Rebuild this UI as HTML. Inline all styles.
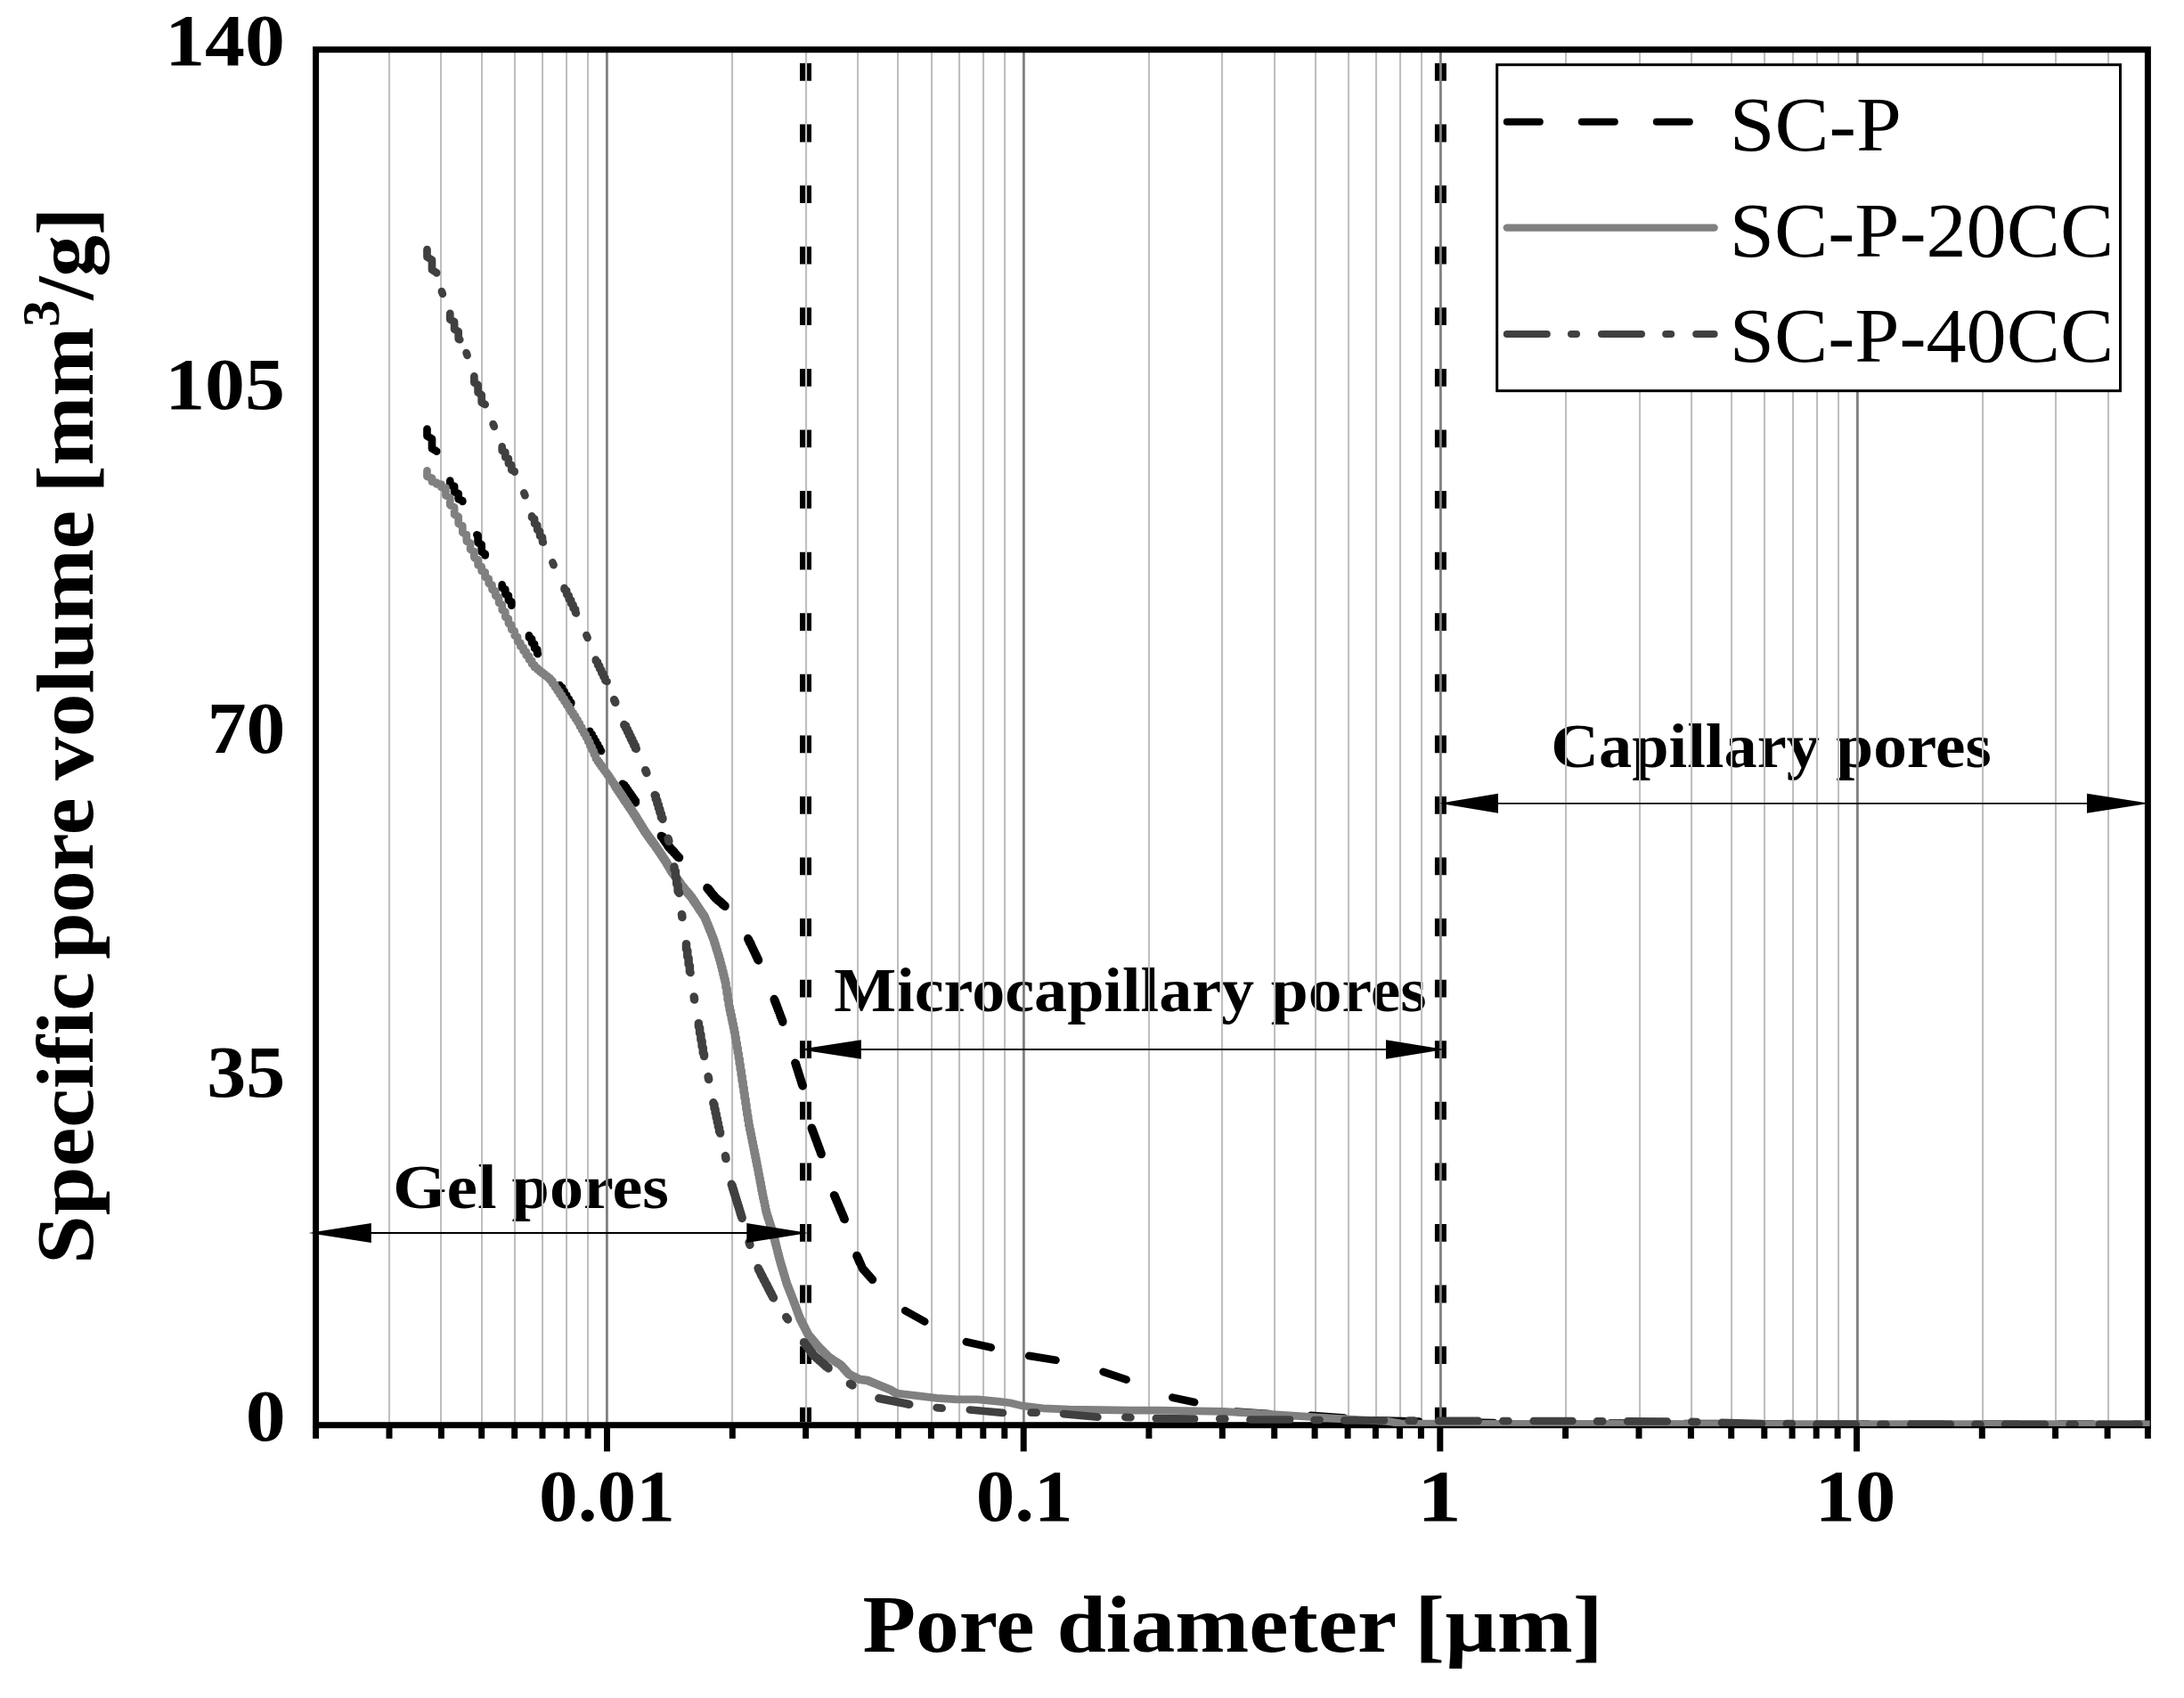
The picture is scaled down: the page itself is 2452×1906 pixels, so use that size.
<!DOCTYPE html>
<html lang="en"><head><meta charset="utf-8"><title>Pore size distribution</title>
<style>html,body{margin:0;padding:0;background:#fff}body{width:2452px;height:1906px;overflow:hidden}svg{display:block}text{font-family:'Liberation Serif','DejaVu Serif',serif;fill:#000}.b{font-weight:bold}</style></head><body>
<svg width="2452" height="1906" viewBox="0 0 2452 1906">
<rect width="2452" height="1906" fill="#fff"/>
<g id="shapes">
<line x1="904.5" y1="71" x2="904.5" y2="1596" stroke="#000" stroke-width="13" stroke-dasharray="19.8 48.78"/>
<line x1="1617.4" y1="71" x2="1617.4" y2="1596" stroke="#000" stroke-width="13" stroke-dasharray="19.8 48.78"/>
<text class="b" transform="translate(441.04,1356.20) scale(1.1194,1.0)" font-size="69.5">Gel</text>
<text class="b" transform="translate(574.56,1356.20) scale(1.0966,1.0)" font-size="69.5">pores</text>
<text class="b" transform="translate(936.21,1135.10) scale(1.0664,1.0)" font-size="69.5">Microcapillary</text>
<text class="b" transform="translate(1426.79,1135.10) scale(1.0876,1.0)" font-size="69.5">pores</text>
<text class="b" transform="translate(1741.24,860.80) scale(1.0703,1.0)" font-size="69.5">Capillary</text>
<text class="b" transform="translate(2061.18,860.80) scale(1.0858,1.0)" font-size="69.5">pores</text>
</g>
<g id="grid">
<rect x="436" y="59" width="2.1" height="1537.5" fill="#bfbfbf"/>
<rect x="494" y="59" width="2.1" height="1537.5" fill="#bfbfbf"/>
<rect x="540" y="59" width="2.1" height="1537.5" fill="#bfbfbf"/>
<rect x="577" y="59" width="2.1" height="1537.5" fill="#bfbfbf"/>
<rect x="608" y="59" width="2.1" height="1537.5" fill="#bfbfbf"/>
<rect x="635" y="59" width="2.1" height="1537.5" fill="#bfbfbf"/>
<rect x="659" y="59" width="2.1" height="1537.5" fill="#bfbfbf"/>
<rect x="680" y="59" width="2.8" height="1537.5" fill="#808080"/>
<rect x="821" y="59" width="2.1" height="1537.5" fill="#bfbfbf"/>
<rect x="904" y="59" width="2.1" height="1537.5" fill="#bfbfbf"/>
<rect x="962" y="59" width="2.1" height="1537.5" fill="#bfbfbf"/>
<rect x="1007" y="59" width="2.1" height="1537.5" fill="#bfbfbf"/>
<rect x="1045" y="59" width="2.1" height="1537.5" fill="#bfbfbf"/>
<rect x="1076" y="59" width="2.1" height="1537.5" fill="#bfbfbf"/>
<rect x="1103" y="59" width="2.1" height="1537.5" fill="#bfbfbf"/>
<rect x="1127" y="59" width="2.1" height="1537.5" fill="#bfbfbf"/>
<rect x="1148" y="59" width="2.8" height="1537.5" fill="#808080"/>
<rect x="1289" y="59" width="2.1" height="1537.5" fill="#bfbfbf"/>
<rect x="1371" y="59" width="2.1" height="1537.5" fill="#bfbfbf"/>
<rect x="1430" y="59" width="2.1" height="1537.5" fill="#bfbfbf"/>
<rect x="1476" y="59" width="2.1" height="1537.5" fill="#bfbfbf"/>
<rect x="1513" y="59" width="2.1" height="1537.5" fill="#bfbfbf"/>
<rect x="1544" y="59" width="2.1" height="1537.5" fill="#bfbfbf"/>
<rect x="1571" y="59" width="2.1" height="1537.5" fill="#bfbfbf"/>
<rect x="1595" y="59" width="2.1" height="1537.5" fill="#bfbfbf"/>
<rect x="1616" y="59" width="2.8" height="1537.5" fill="#808080"/>
<rect x="1757" y="59" width="2.1" height="1537.5" fill="#bfbfbf"/>
<rect x="1840" y="59" width="2.1" height="1537.5" fill="#bfbfbf"/>
<rect x="1898" y="59" width="2.1" height="1537.5" fill="#bfbfbf"/>
<rect x="1943" y="59" width="2.1" height="1537.5" fill="#bfbfbf"/>
<rect x="1980" y="59" width="2.1" height="1537.5" fill="#bfbfbf"/>
<rect x="2012" y="59" width="2.1" height="1537.5" fill="#bfbfbf"/>
<rect x="2039" y="59" width="2.1" height="1537.5" fill="#bfbfbf"/>
<rect x="2063" y="59" width="2.1" height="1537.5" fill="#bfbfbf"/>
<rect x="2084" y="59" width="2.8" height="1537.5" fill="#808080"/>
<rect x="2225" y="59" width="2.1" height="1537.5" fill="#bfbfbf"/>
<rect x="2307" y="59" width="2.1" height="1537.5" fill="#bfbfbf"/>
<rect x="2366" y="59" width="2.1" height="1537.5" fill="#bfbfbf"/>
</g>
<g id="axes" stroke="#000" stroke-width="7" fill="none">
<rect x="354.6" y="55.7" width="2056.8" height="1544.0"/>
<line x1="354.6" y1="1600" x2="354.6" y2="1614.8"/>
<line x1="437.0" y1="1600" x2="437.0" y2="1614.8"/>
<line x1="495.4" y1="1600" x2="495.4" y2="1614.8"/>
<line x1="540.7" y1="1600" x2="540.7" y2="1614.8"/>
<line x1="577.7" y1="1600" x2="577.7" y2="1614.8"/>
<line x1="609.0" y1="1600" x2="609.0" y2="1614.8"/>
<line x1="636.2" y1="1600" x2="636.2" y2="1614.8"/>
<line x1="660.1" y1="1600" x2="660.1" y2="1614.8"/>
<line x1="681.5" y1="1600" x2="681.5" y2="1629.3"/>
<line x1="822.3" y1="1600" x2="822.3" y2="1614.8"/>
<line x1="904.6" y1="1600" x2="904.6" y2="1614.8"/>
<line x1="963.1" y1="1600" x2="963.1" y2="1614.8"/>
<line x1="1008.4" y1="1600" x2="1008.4" y2="1614.8"/>
<line x1="1045.4" y1="1600" x2="1045.4" y2="1614.8"/>
<line x1="1076.7" y1="1600" x2="1076.7" y2="1614.8"/>
<line x1="1103.8" y1="1600" x2="1103.8" y2="1614.8"/>
<line x1="1127.8" y1="1600" x2="1127.8" y2="1614.8"/>
<line x1="1149.2" y1="1600" x2="1149.2" y2="1629.3"/>
<line x1="1289.9" y1="1600" x2="1289.9" y2="1614.8"/>
<line x1="1372.3" y1="1600" x2="1372.3" y2="1614.8"/>
<line x1="1430.7" y1="1600" x2="1430.7" y2="1614.8"/>
<line x1="1476.1" y1="1600" x2="1476.1" y2="1614.8"/>
<line x1="1513.1" y1="1600" x2="1513.1" y2="1614.8"/>
<line x1="1544.4" y1="1600" x2="1544.4" y2="1614.8"/>
<line x1="1571.5" y1="1600" x2="1571.5" y2="1614.8"/>
<line x1="1595.4" y1="1600" x2="1595.4" y2="1614.8"/>
<line x1="1616.8" y1="1600" x2="1616.8" y2="1629.3"/>
<line x1="1757.6" y1="1600" x2="1757.6" y2="1614.8"/>
<line x1="1840.0" y1="1600" x2="1840.0" y2="1614.8"/>
<line x1="1898.4" y1="1600" x2="1898.4" y2="1614.8"/>
<line x1="1943.7" y1="1600" x2="1943.7" y2="1614.8"/>
<line x1="1980.8" y1="1600" x2="1980.8" y2="1614.8"/>
<line x1="2012.1" y1="1600" x2="2012.1" y2="1614.8"/>
<line x1="2039.2" y1="1600" x2="2039.2" y2="1614.8"/>
<line x1="2063.1" y1="1600" x2="2063.1" y2="1614.8"/>
<line x1="2084.5" y1="1600" x2="2084.5" y2="1629.3"/>
<line x1="2225.3" y1="1600" x2="2225.3" y2="1614.8"/>
<line x1="2307.6" y1="1600" x2="2307.6" y2="1614.8"/>
<line x1="2366.1" y1="1600" x2="2366.1" y2="1614.8"/>
<line x1="2411.4" y1="1600" x2="2411.4" y2="1614.8"/>
</g>
<clipPath id="pc"><rect x="354.6" y="55.7" width="2059.1" height="1545.3"/></clipPath>
<g id="curves" clip-path="url(#pc)" fill="none" stroke-linecap="round" stroke-linejoin="round" stroke-width="8.7">
<polyline stroke="#000" points="479.5,481.6 479.5,489.5 485.0,492.6 485.0,503.4 490.2,506.4 490.2,506.6"/>
<polyline stroke="#000" points="505.3,539.7 505.3,544.1 510.1,545.9 510.1,552.2 514.7,554.0 514.7,560.2 519.3,562.0 519.3,562.9"/>
<polyline stroke="#000" points="535.4,600.3 536.6,600.9 536.6,609.1 540.7,611.4 540.7,619.5 544.7,621.7 544.7,623.5"/>
<polyline stroke="#000" points="563.7,656.4 563.7,659.9 567.3,661.4 567.3,666.9 570.9,668.5 570.9,673.9 574.3,675.4 574.3,679.6"/>
<polyline stroke="#000" points="594.0,713.3 594.0,715.7 597.1,717.1 597.1,721.8 600.1,723.1 600.1,727.8 603.2,729.1 603.2,733.7 603.8,734.0"/>
<polyline stroke="#000" points="628.4,769.0 628.4,770.8 631.0,771.7 631.0,775.1 633.6,776.0 633.6,779.4 636.2,780.3 636.2,783.6 638.7,784.5 638.7,787.8 641.2,788.7 641.2,789.7"/>
<polyline stroke="#000" points="662.3,820.9 662.3,823.3 664.6,824.1 664.6,827.2 666.8,828.0 666.8,831.0 668.9,831.8 668.9,834.8 671.1,835.6 671.1,838.5 673.2,839.3 673.2,842.2 675.0,842.9"/>
<polyline stroke="#000" stroke-width="9.5" points="699.0,880.3 699.0,880.6 700.8,881.2 700.8,883.3 702.7,883.8 702.7,885.9 704.5,886.4 704.5,888.5 706.3,889.0 706.3,891.0 708.1,891.6 708.1,893.6 709.9,894.1 709.9,896.1 711.6,896.6 711.6,898.6 713.4,899.1 713.4,901.0"/>
<polyline stroke="#000" stroke-width="9.5" points="742.4,938.4 742.4,938.7 743.9,939.1 743.9,940.8 745.4,941.3 745.4,943.0 746.9,943.5 746.9,945.2 748.4,945.7 748.4,947.3 749.8,947.8 749.8,949.5 751.3,949.9 751.3,951.4 752.7,951.8 752.7,953.0 754.1,953.3 754.1,954.5 755.6,954.9 755.6,956.1 757.0,956.4 757.0,957.6 758.4,958.0 758.4,959.1 759.7,959.5 759.7,960.6 761.1,961.0 761.1,962.1 762.5,962.5 762.5,962.8"/>
<polyline stroke="#000" stroke-width="9.5" points="794.0,996.5 794.0,997.0 795.2,997.3 795.2,998.4 796.3,998.7 796.3,999.8 797.5,1000.1 797.5,1001.2 798.6,1001.6 798.6,1002.7 799.7,1003.0 799.7,1004.1 800.9,1004.4 800.9,1005.5 802.0,1005.8 802.0,1006.8 803.1,1007.1 803.1,1007.9 804.2,1008.1 804.2,1008.9 805.3,1009.1 805.3,1009.9 806.4,1010.1 806.4,1010.9 807.5,1011.1 807.5,1011.8 808.6,1012.0 808.6,1012.8 809.7,1013.0 809.7,1013.8 810.8,1014.0 810.8,1014.7 811.9,1014.9 811.9,1015.7 812.9,1015.9 812.9,1016.6 814.0,1016.8 814.0,1017.3"/>
<polyline stroke="#000" stroke-width="9.5" points="839.8,1053.5 839.8,1054.3 840.7,1054.7 840.7,1056.2 841.6,1056.6 841.6,1058.1 842.6,1058.5 842.6,1060.0 843.5,1060.5 843.5,1061.9 844.4,1062.4 844.4,1063.8 845.3,1064.3 845.3,1065.7 846.2,1066.2 846.2,1067.6 847.1,1068.0 847.1,1069.5 848.0,1069.9 848.0,1071.4 848.9,1071.8 848.9,1073.2 849.8,1073.6 849.8,1075.1 850.7,1075.5 850.7,1076.9 851.5,1077.3 851.5,1077.9"/>
<polyline stroke="#000" stroke-width="9.5" points="869.2,1121.5 869.2,1122.3 870.0,1122.8 870.0,1124.4 870.8,1124.9 870.8,1126.6 871.6,1127.0 871.6,1128.7 872.4,1129.1 872.4,1130.8 873.2,1131.2 873.2,1132.9 874.0,1133.3 874.0,1135.0 874.8,1135.4 874.8,1137.0 875.6,1137.5 875.6,1139.1 876.3,1139.6 876.3,1141.2 877.1,1141.6 877.1,1143.2 877.9,1143.7 877.9,1145.3 878.7,1145.7 878.7,1147.2"/>
<polyline stroke="#000" stroke-width="9.5" points="892.8,1193.3 893.5,1193.8 893.5,1195.5 894.2,1196.0 894.2,1197.8 894.9,1198.3 894.9,1200.0 895.6,1200.5 895.6,1202.2 896.3,1202.7 896.3,1204.5 897.0,1205.0 897.0,1206.7 897.7,1207.2 897.7,1208.9 898.4,1209.4 898.4,1211.1 899.1,1211.6 899.1,1213.3 899.8,1213.8 899.8,1215.5 900.5,1216.0 900.5,1217.7 901.2,1218.1 901.2,1219.0"/>
<polyline stroke="#000" stroke-width="9.5" points="911.3,1266.2 911.3,1266.7 911.9,1267.1 911.9,1268.5 912.6,1268.9 912.6,1270.3 913.2,1270.6 913.2,1272.0 913.9,1272.4 913.9,1273.8 914.5,1274.2 914.5,1275.5 915.2,1275.9 915.2,1277.3 915.8,1277.7 915.8,1279.0 916.5,1279.4 916.5,1280.7 917.1,1281.1 917.1,1282.5 917.7,1282.8 917.7,1284.2 918.4,1284.6 918.4,1285.9 919.0,1286.3 919.0,1287.6 919.6,1288.0 919.6,1289.3 920.3,1289.7 920.3,1291.0 920.9,1291.4 920.9,1292.7 921.5,1293.1 921.5,1294.4 922.1,1294.8 922.1,1295.6"/>
<polyline stroke="#000" stroke-width="9.5" points="936.5,1341.7 937.1,1342.0 937.1,1343.0 937.7,1343.3 937.7,1344.4 938.2,1344.7 938.2,1345.8 938.8,1346.1 938.8,1347.1 939.4,1347.4 939.4,1348.4 940.0,1348.7 940.0,1349.8 940.5,1350.1 940.5,1351.1 941.1,1351.4 941.1,1352.5 941.7,1352.8 941.7,1353.8 942.2,1354.1 942.2,1355.1 942.8,1355.4 942.8,1356.4 943.3,1356.7 943.3,1357.8 943.9,1358.0 943.9,1359.1 944.5,1359.4 944.5,1360.4 945.0,1360.7 945.0,1361.7 945.6,1362.0 945.6,1363.0 946.1,1363.3 946.1,1364.3 946.7,1364.6 946.7,1365.6 947.2,1365.9 947.2,1366.9 947.8,1367.2 947.8,1368.2 948.3,1368.5 948.3,1368.6"/>
<polyline stroke="#000" stroke-width="9.5" points="962.0,1409.4 962.0,1410.0 962.5,1410.2 962.5,1411.1 963.1,1411.4 963.1,1412.3 963.6,1412.6 963.6,1413.5 964.1,1413.7 964.1,1414.7 964.6,1414.9 964.6,1415.8 965.1,1416.1 965.1,1417.0 965.6,1417.2 965.6,1418.1 966.1,1418.4 968.5,1424.0 979.5,1436.3"/>
<polyline stroke="#000" points="1016.2,1471.2 1038.2,1483.5"/>
<polyline stroke="#000" points="1084.8,1506.2 1112.7,1512.6"/>
<polyline stroke="#000" points="1155.2,1521.9 1185.4,1526.7"/>
<polyline stroke="#000" points="1238.6,1539.9 1264.6,1548.7"/>
<polyline stroke="#000" points="1316.3,1568.7 1341.1,1574.0"/>
<polyline stroke="#000" points="1387.8,1584.7 1425.2,1587.0"/>
<polyline stroke="#000" points="1471.8,1588.8 1509.2,1591.6"/>
<polyline stroke="#000" points="1555.8,1594.7 1593.2,1595.6"/>
<polyline stroke="#000" points="1639.8,1596.4 1677.2,1597.0"/>
<polyline stroke="#000" points="1723.8,1597.2 1761.2,1597.4"/>
<polyline stroke="#000" points="1807.8,1597.6 1845.2,1597.7"/>
<polyline stroke="#000" points="1891.8,1598.0 1929.2,1598.2"/>
<polyline stroke="#000" points="1975.8,1598.4 2013.2,1598.5"/>
<polyline stroke="#000" points="2059.8,1598.5 2097.2,1598.6"/>
<polyline stroke="#000" points="2143.8,1598.6 2181.2,1598.6"/>
<polyline stroke="#000" points="2227.8,1598.7 2265.2,1598.7"/>
<polyline stroke="#000" points="2311.8,1598.7 2349.2,1598.7"/>
<polyline stroke="#000" points="2395.8,1598.8 2412.2,1598.8"/>
<polyline stroke="#808080" points="479.5,528.3 479.5,534.8 485.0,536.6 485.0,540.7 490.2,541.8 490.2,543.3 495.4,543.7 495.4,546.7 500.4,547.5 500.4,556.2 505.3,558.6 505.3,567.1 510.1,569.4 510.1,577.7 514.7,580.0 514.7,587.9 519.3,590.1 519.3,597.8 523.8,600.0 523.8,607.5 528.1,609.6 528.1,616.9 532.4,619.0 532.4,626.1 536.6,628.2 536.6,634.3 540.7,636.0 540.7,641.0 544.7,642.4 544.7,648.0 548.7,649.6 548.7,655.1 552.5,656.6 552.5,662.0 556.3,663.5 556.3,669.0 560.1,670.5 560.1,676.8 563.7,678.6 563.7,684.8 567.3,686.6 567.3,692.7 570.9,694.4 570.9,700.0 574.3,701.5 574.3,706.8 577.7,708.3 577.7,713.5 581.1,715.0 581.1,720.1 584.4,721.6 584.4,725.5 587.6,726.7 587.6,730.6 590.8,731.7 590.8,735.6 594.0,736.6 594.0,740.4 597.1,741.5 597.1,745.3 600.1,746.3 600.1,749.1 603.2,749.8 603.2,751.6 606.1,752.2 606.1,753.9 609.0,754.5 609.0,756.2 611.9,756.7 611.9,758.5 614.8,759.0 614.8,760.7 617.6,761.2 617.6,763.6 620.3,764.3 620.3,767.5 623.1,768.4 623.1,771.6 625.7,772.5 625.7,775.6 628.4,776.5 628.4,779.5 631.0,780.4 631.0,783.5 633.6,784.4 633.6,787.6 636.2,788.5 636.2,791.5 638.7,792.4 638.7,795.5 641.2,796.3 641.2,799.4 643.6,800.2 643.6,803.2 646.1,804.0 646.1,807.0 648.5,807.8 648.5,811.1 650.9,812.1 650.9,815.4 653.2,816.3 653.2,819.5 655.5,820.5 655.5,823.7 657.8,824.6 657.8,827.8 660.1,828.7 660.1,832.3 662.3,833.3 662.3,837.2 664.6,838.3 664.6,842.1 666.8,843.2 666.8,847.0 668.9,848.1 668.9,851.7 671.1,852.7 671.1,855.1 673.2,855.7 673.2,858.0 675.3,858.6 675.3,860.9 677.4,861.5 677.4,863.8 679.4,864.4 679.4,866.6 681.5,867.3 681.5,869.5 683.5,870.1 683.5,872.5 685.5,873.1 685.5,875.5 687.5,876.1 687.5,878.4 689.5,879.1 689.5,881.4 691.4,882.0 691.4,884.3 693.3,884.9 693.3,887.1 695.2,887.8 695.2,890.0 697.1,890.6 697.1,892.8 699.0,893.4 699.0,895.6 700.8,896.2 700.8,898.4 702.7,899.0 702.7,901.1 704.5,901.7 704.5,903.8 706.3,904.4 706.3,906.5 708.1,907.1 708.1,909.1 709.9,909.7 709.9,911.8 711.6,912.4 711.6,914.4 713.4,915.0 713.4,917.2 715.1,917.8 715.1,919.9 716.8,920.6 716.8,922.7 718.5,923.3 718.5,925.4 720.2,926.0 720.2,928.1 721.9,928.7 721.9,930.8 723.5,931.4 723.5,933.4 725.2,934.0 725.2,935.8 726.8,936.3 726.8,938.1 728.4,938.6 728.4,940.3 730.0,940.8 730.0,942.5 731.6,943.0 731.6,944.8 733.2,945.2 733.2,946.9 734.8,947.4 734.8,949.1 736.3,949.6 736.3,951.3 737.9,951.8 737.9,953.6 739.4,954.1 739.4,955.8 740.9,956.3 740.9,958.1 742.4,958.6 742.4,960.3 743.9,960.8 743.9,962.6 745.4,963.1 745.4,964.8 746.9,965.3 746.9,967.1 748.4,967.6 748.4,969.5 749.8,970.0 749.8,971.9 751.3,972.5 751.3,974.3 752.7,974.9 752.7,976.7 754.1,977.3 754.1,979.0 755.6,979.4 755.6,980.9 757.0,981.3 757.0,982.8 758.4,983.2 758.4,984.7 759.7,985.1 759.7,986.6 761.1,987.1 761.1,988.6 762.5,989.0 762.5,990.5 763.8,990.9 763.8,992.4 765.2,992.9 765.2,994.3 766.5,994.8 766.5,996.2 767.9,996.5 767.9,997.8 769.2,998.1 769.2,999.3 770.5,999.7 770.5,1000.9 771.8,1001.2 771.8,1002.4 773.1,1002.7 773.1,1003.9 774.4,1004.2 774.4,1005.4 775.7,1005.8 775.7,1006.9 777.0,1007.3 777.0,1008.8 778.2,1009.2 778.2,1010.7 779.5,1011.1 779.5,1012.5 780.7,1013.0 780.7,1014.4 782.0,1014.8 782.0,1016.3 783.2,1016.7 783.2,1018.1 784.4,1018.5 784.4,1020.0 785.6,1020.4 785.6,1021.8 786.9,1022.2 786.9,1023.6 788.1,1024.0 788.1,1025.4 789.3,1025.8 789.3,1027.2 790.5,1027.6 790.5,1029.0 791.6,1029.4 791.6,1031.7 792.8,1032.3 792.8,1034.6 794.0,1035.2 794.0,1037.5 795.2,1038.1 795.2,1040.4 796.3,1041.0 796.3,1043.2 797.5,1043.9 797.5,1046.1 798.6,1046.7 798.6,1048.9 799.7,1049.6 799.7,1051.8 800.9,1052.4 800.9,1054.8 802.0,1055.5 802.0,1058.4 803.1,1059.2 803.1,1062.1 804.2,1062.9 804.2,1065.7 805.3,1066.5 805.3,1069.3 806.4,1070.1 806.4,1072.9 807.5,1073.7 807.5,1076.5 808.6,1077.3 808.6,1080.5 809.7,1081.4 809.7,1084.8 810.8,1085.7 810.8,1089.1 811.9,1090.1 811.9,1093.5 812.9,1094.4 812.9,1097.8 814.0,1098.7 814.0,1102.1 815.0,1103.0 815.0,1108.2 816.1,1109.6 816.1,1115.1 817.1,1116.6 817.1,1122.0 818.2,1123.5 818.2,1128.5 819.2,1129.9 819.2,1133.7 820.2,1134.8 820.2,1138.6 821.3,1139.7 821.3,1143.5 822.3,1144.6 822.3,1148.3 823.3,1149.4 823.3,1153.2 824.3,1154.2 824.3,1158.2 825.3,1159.3 825.3,1163.9 826.3,1165.2 826.3,1169.8 827.3,1171.1 827.3,1175.7 828.3,1177.0 828.3,1181.5 829.3,1182.8 829.3,1187.4 830.2,1188.7 830.2,1193.8 831.2,1195.2 831.2,1200.3 832.2,1201.7 832.2,1206.7 833.1,1208.1 833.1,1213.2 834.1,1214.6 834.1,1219.6 835.1,1221.0 835.1,1225.9 836.0,1227.3 836.0,1232.3 837.0,1233.7 837.0,1238.6 837.9,1240.0 837.9,1244.9 838.8,1246.3 838.8,1251.1 839.8,1252.5 839.8,1257.3 840.7,1258.7 840.7,1262.9 841.6,1264.1 841.6,1267.7 842.6,1268.7 842.6,1272.2 843.5,1273.2 843.5,1276.7 844.4,1277.7 844.4,1281.2 845.3,1282.2 845.3,1285.7 846.2,1286.7 846.2,1290.2 847.1,1291.2 847.1,1294.8 848.0,1295.8 848.0,1299.3 848.9,1300.3 848.9,1303.8 849.8,1304.8 849.8,1308.3 850.7,1309.3 850.7,1312.8 851.5,1313.8 851.5,1317.5 852.4,1318.5 852.4,1322.1 853.3,1323.1 853.3,1326.7 854.2,1327.7 854.2,1331.3 855.0,1332.3 855.0,1335.9 855.9,1336.9 855.9,1340.2 856.7,1341.2 856.7,1344.5 857.6,1345.4 857.6,1348.7 858.5,1349.6 858.5,1352.8 859.3,1353.7 859.3,1357.0 860.1,1357.9 860.1,1360.7 861.0,1361.5 861.0,1363.6 861.8,1364.2 861.8,1366.2 862.7,1366.8 862.7,1368.8 863.5,1369.4 863.5,1371.4 864.3,1372.0 864.3,1374.0 865.1,1374.6 865.1,1376.6 866.0,1377.2 866.0,1379.2 866.8,1379.8 866.8,1381.8 867.6,1382.3 867.6,1384.3 868.4,1384.9 868.4,1387.2 869.2,1387.9 869.2,1390.4 870.0,1391.1 870.0,1393.7 870.8,1394.4 870.8,1396.9 871.6,1397.6 871.6,1400.1 872.4,1400.8 872.4,1403.3 873.2,1404.0 873.2,1406.5 874.0,1407.2 874.0,1409.7 874.8,1410.4 874.8,1412.8 875.6,1413.5 875.6,1415.6 876.3,1416.1 876.3,1418.2 877.1,1418.8 877.1,1420.8 877.9,1421.4 877.9,1423.4 878.7,1424.0 878.7,1426.0 879.4,1426.6 879.4,1428.6 880.2,1429.2 880.2,1431.2 881.0,1431.8 881.0,1433.8 881.7,1434.3 881.7,1436.3 882.5,1436.9 882.5,1438.9 883.2,1439.4 883.2,1441.2 884.0,1441.7 884.0,1443.2 884.7,1443.6 884.7,1445.1 885.5,1445.5 885.5,1447.0 886.2,1447.4 886.2,1448.9 887.0,1449.3 887.0,1450.8 887.7,1451.2 887.7,1452.7 888.4,1453.1 888.4,1454.6 889.2,1455.0 889.2,1456.5 889.9,1456.9 889.9,1458.3 890.6,1458.8 890.6,1460.2 891.3,1460.6 891.3,1462.1 892.1,1462.5 892.1,1464.1 892.8,1464.5 892.8,1466.0 893.5,1466.4 893.5,1467.9 894.2,1468.4 894.2,1469.9 894.9,1470.3 894.9,1471.8 895.6,1472.2 895.6,1473.7 896.3,1474.1 896.3,1475.6 897.0,1476.0 897.0,1477.5 897.7,1477.9 897.7,1479.4 898.4,1479.8 898.4,1480.9 899.1,1481.2 899.1,1482.2 899.8,1482.5 899.8,1483.6 900.5,1483.9 900.5,1485.0 901.2,1485.3 901.2,1486.4 901.9,1486.7 901.9,1487.7 902.6,1488.0 902.6,1489.1 903.3,1489.4 903.3,1490.4 903.9,1490.7 903.9,1491.8 904.6,1492.1 904.6,1493.1 905.3,1493.4 905.3,1494.5 906.0,1494.8 906.0,1495.8 906.6,1496.1 906.6,1497.1 907.3,1497.4 907.3,1498.2 908.0,1498.5 908.0,1499.1 908.6,1499.3 908.6,1499.9 909.3,1500.1 909.3,1500.7 910.0,1500.9 910.0,1501.5 910.6,1501.6 910.6,1502.3 911.3,1502.4 911.3,1503.0 911.9,1503.2 911.9,1503.8 912.6,1504.0 912.6,1504.6 913.2,1504.8 913.2,1505.4 913.9,1505.6 913.9,1506.2 914.5,1506.3 914.5,1506.9 915.2,1507.1 915.2,1507.7 915.8,1507.9 915.8,1508.5 916.5,1508.6 916.5,1509.2 917.1,1509.4 917.1,1510.0 917.7,1510.2 917.7,1510.8 918.4,1510.9 918.4,1511.5 919.0,1511.7 919.0,1512.2 919.6,1512.3 919.6,1512.8 920.3,1513.0 920.3,1513.4 920.9,1513.6 920.9,1514.1 921.5,1514.2 921.5,1514.7 922.1,1514.8 922.1,1515.3 922.8,1515.5 922.8,1515.9 923.4,1516.1 923.4,1516.5 924.0,1516.7 924.0,1517.2 924.6,1517.3 924.6,1517.8 925.2,1517.9 925.2,1518.4 925.8,1518.5 925.8,1519.0 926.4,1519.1 926.4,1519.6 927.0,1519.7 927.0,1520.2 927.6,1520.3 927.6,1520.8 928.2,1520.9 928.2,1521.4 928.9,1521.6 928.9,1522.0 929.5,1522.2 929.5,1522.6 930.0,1522.7 930.0,1523.2 930.6,1523.3 930.6,1523.6 931.2,1523.7 931.2,1524.0 931.8,1524.1 931.8,1524.4 932.4,1524.5 932.4,1524.8 933.0,1524.9 933.0,1525.2 933.6,1525.3 933.6,1525.6 934.2,1525.6 934.2,1526.0 934.8,1526.0 934.8,1526.3 935.4,1526.4 935.4,1526.7 935.9,1526.8 935.9,1527.1 936.5,1527.2 936.5,1527.5 937.1,1527.6 937.1,1527.9 937.7,1528.0 937.7,1528.3 938.2,1528.3 938.2,1528.6 938.8,1528.7 938.8,1529.0 939.4,1529.1 939.4,1529.4 940.0,1529.5 940.0,1529.8 940.5,1529.9 940.5,1530.2 941.1,1530.2 941.1,1530.5 941.7,1530.6 941.7,1530.9 942.2,1531.0 942.2,1531.3 942.8,1531.4 942.8,1531.6 943.3,1531.7 943.3,1532.0 943.9,1532.1 943.9,1532.5 944.5,1532.6 944.5,1533.1 945.0,1533.2 945.0,1533.7 945.6,1533.8 945.6,1534.3 946.1,1534.5 946.1,1534.9 946.7,1535.1 946.7,1535.5 947.2,1535.7 947.2,1536.2 947.8,1536.3 947.8,1536.8 948.3,1536.9 948.3,1537.4 948.9,1537.5 948.9,1538.0 949.4,1538.1 949.4,1538.6 949.9,1538.7 949.9,1539.2 950.5,1539.3 950.5,1539.8 951.0,1539.9 951.0,1540.4 951.6,1540.5 951.6,1541.0 952.1,1541.1 952.1,1541.6 952.6,1541.7 952.6,1542.2 953.2,1542.3 953.2,1542.7 953.7,1542.8 953.7,1543.0 954.2,1543.0 954.2,1543.2 954.8,1543.3 954.8,1543.5 955.3,1543.5 955.3,1543.8 955.8,1543.8 955.8,1544.0 956.3,1544.1 956.3,1544.3 956.9,1544.3 956.9,1544.5 957.4,1544.6 957.4,1544.8 957.9,1544.9 957.9,1545.1 958.4,1545.1 958.4,1545.3 959.0,1545.4 959.0,1545.6 959.5,1545.6 959.5,1545.8 960.0,1545.9 960.0,1546.1 960.5,1546.2 960.5,1546.4 961.0,1546.4 961.0,1546.6 961.5,1546.7 961.5,1546.9 962.0,1546.9 962.0,1547.1 962.5,1547.2 962.5,1547.4 963.1,1547.4 963.1,1547.6 963.6,1547.7 963.6,1547.9 964.1,1547.9 964.1,1548.1 964.6,1548.2 964.6,1548.3 965.1,1548.3 965.1,1548.4 965.6,1548.4 965.6,1548.5 966.1,1548.5 974.0,1549.5 987.7,1555.2 999.2,1559.8 1006.0,1563.9 1028.9,1566.6 1051.8,1569.4 1074.7,1570.8 1097.6,1570.8 1120.5,1573.1 1134.2,1574.7 1148.0,1578.1 1170.9,1580.8 1200.6,1582.2 1235.0,1582.7 1269.3,1583.1 1300.0,1583.1 1373.6,1584.4 1428.6,1587.7 1497.3,1592.1 1557.7,1595.4 1574.2,1598.1 1601.6,1598.1 1700.0,1598.3 2420.0,1598.8"/>
<polyline stroke="#808080" stroke-width="9.5" points="691.4,882.0 691.4,884.3 693.3,884.9 693.3,887.1 695.2,887.8 695.2,890.0 697.1,890.6 697.1,892.8 699.0,893.4 699.0,895.6 700.8,896.2 700.8,898.4 702.7,899.0 702.7,901.1 704.5,901.7 704.5,903.8 706.3,904.4 706.3,906.5 708.1,907.1 708.1,909.1 709.9,909.7 709.9,911.8 711.6,912.4 711.6,914.4 713.4,915.0 713.4,917.2 715.1,917.8 715.1,919.9 716.8,920.6 716.8,922.7 718.5,923.3 718.5,925.4 720.2,926.0 720.2,928.1 721.9,928.7 721.9,930.8 723.5,931.4 723.5,933.4 725.2,934.0 725.2,935.8 726.8,936.3 726.8,938.1 728.4,938.6 728.4,940.3 730.0,940.8 730.0,942.5 731.6,943.0 731.6,944.8 733.2,945.2 733.2,946.9 734.8,947.4 734.8,949.1 736.3,949.6 736.3,951.3 737.9,951.8 737.9,953.6 739.4,954.1 739.4,955.8 740.9,956.3 740.9,958.1 742.4,958.6 742.4,960.3 743.9,960.8 743.9,962.6 745.4,963.1 745.4,964.8 746.9,965.3 746.9,967.1 748.4,967.6 748.4,969.5 749.8,970.0 749.8,971.9 751.3,972.5 751.3,974.3 752.7,974.9 752.7,976.7 754.1,977.3 754.1,979.0 755.6,979.4 755.6,980.9 757.0,981.3 757.0,982.8 758.4,983.2 758.4,984.7 759.7,985.1 759.7,986.6 761.1,987.1 761.1,988.6 762.5,989.0 762.5,990.5 763.8,990.9 763.8,992.4 765.2,992.9 765.2,994.3 766.5,994.8 766.5,996.2 767.9,996.5 767.9,997.8 769.2,998.1 769.2,999.3 770.5,999.7 770.5,1000.9 771.8,1001.2 771.8,1002.4 773.1,1002.7 773.1,1003.9 774.4,1004.2 774.4,1005.4 775.7,1005.8 775.7,1006.9 777.0,1007.3 777.0,1008.8 778.2,1009.2 778.2,1010.7 779.5,1011.1 779.5,1012.5 780.7,1013.0 780.7,1014.4 782.0,1014.8 782.0,1016.3 783.2,1016.7 783.2,1018.1 784.4,1018.5 784.4,1020.0 785.6,1020.4 785.6,1021.8 786.9,1022.2 786.9,1023.6 788.1,1024.0 788.1,1025.4 789.3,1025.8 789.3,1027.2 790.5,1027.6 790.5,1029.0 791.6,1029.4 791.6,1031.7 792.8,1032.3 792.8,1034.6 794.0,1035.2 794.0,1037.5 795.2,1038.1 795.2,1040.4 796.3,1041.0 796.3,1043.2 797.5,1043.9 797.5,1046.1 798.6,1046.7 798.6,1048.9 799.7,1049.6 799.7,1051.8 800.9,1052.4 800.9,1054.8 802.0,1055.5 802.0,1058.4 803.1,1059.2 803.1,1062.1 804.2,1062.9 804.2,1065.7 805.3,1066.5 805.3,1069.3 806.4,1070.1 806.4,1072.9 807.5,1073.7 807.5,1076.5 808.6,1077.3 808.6,1080.5 809.7,1081.4 809.7,1084.8 810.8,1085.7 810.8,1089.1 811.9,1090.1 811.9,1093.5 812.9,1094.4 812.9,1097.8 814.0,1098.7 814.0,1102.1 815.0,1103.0 815.0,1108.2 816.1,1109.6 816.1,1115.1 817.1,1116.6 817.1,1122.0 818.2,1123.5 818.2,1128.5 819.2,1129.9 819.2,1133.7 820.2,1134.8 820.2,1138.6 821.3,1139.7 821.3,1143.5 822.3,1144.6 822.3,1148.3 823.3,1149.4 823.3,1153.2 824.3,1154.2 824.3,1158.2 825.3,1159.3 825.3,1163.9 826.3,1165.2 826.3,1169.8 827.3,1171.1 827.3,1175.7 828.3,1177.0 828.3,1181.5 829.3,1182.8 829.3,1187.4 830.2,1188.7 830.2,1193.8 831.2,1195.2 831.2,1200.3 832.2,1201.7 832.2,1206.7 833.1,1208.1 833.1,1213.2 834.1,1214.6 834.1,1219.6 835.1,1221.0 835.1,1225.9 836.0,1227.3 836.0,1232.3 837.0,1233.7 837.0,1238.6 837.9,1240.0 837.9,1244.9 838.8,1246.3 838.8,1251.1 839.8,1252.5 839.8,1257.3 840.7,1258.7 840.7,1262.9 841.6,1264.1 841.6,1267.7 842.6,1268.7 842.6,1272.2 843.5,1273.2 843.5,1276.7 844.4,1277.7 844.4,1281.2 845.3,1282.2 845.3,1285.7 846.2,1286.7 846.2,1290.2 847.1,1291.2 847.1,1294.8 848.0,1295.8 848.0,1299.3 848.9,1300.3 848.9,1303.8 849.8,1304.8 849.8,1308.3 850.7,1309.3 850.7,1312.8 851.5,1313.8 851.5,1317.5 852.4,1318.5 852.4,1322.1 853.3,1323.1 853.3,1326.7 854.2,1327.7 854.2,1331.3 855.0,1332.3 855.0,1335.9 855.9,1336.9 855.9,1340.2 856.7,1341.2 856.7,1344.5 857.6,1345.4 857.6,1348.7 858.5,1349.6 858.5,1352.8 859.3,1353.7 859.3,1357.0 860.1,1357.9 860.1,1360.7 861.0,1361.5 861.0,1363.6 861.8,1364.2 861.8,1366.2 862.7,1366.8 862.7,1368.8 863.5,1369.4 863.5,1371.4 864.3,1372.0 864.3,1374.0 865.1,1374.6 865.1,1376.6 866.0,1377.2 866.0,1379.2 866.8,1379.8 866.8,1381.8 867.6,1382.3 867.6,1384.3 868.4,1384.9 868.4,1387.2 869.2,1387.9 869.2,1390.4 870.0,1391.1 870.0,1393.7 870.8,1394.4 870.8,1396.9 871.6,1397.6 871.6,1400.1 872.4,1400.8 872.4,1403.3 873.2,1404.0 873.2,1406.5 874.0,1407.2 874.0,1409.7 874.8,1410.4 874.8,1412.8 875.6,1413.5 875.6,1415.6 876.3,1416.1 876.3,1418.2 877.1,1418.8 877.1,1420.8 877.9,1421.4 877.9,1423.4 878.7,1424.0 878.7,1426.0 879.4,1426.6 879.4,1428.6 880.2,1429.2 880.2,1431.2 881.0,1431.8 881.0,1433.8 881.7,1434.3 881.7,1436.3 882.5,1436.9 882.5,1438.9 883.2,1439.4 883.2,1441.2 884.0,1441.7 884.0,1443.2 884.7,1443.6 884.7,1445.1 885.5,1445.5 885.5,1447.0 886.2,1447.4 886.2,1448.9 887.0,1449.3 887.0,1450.8 887.7,1451.2 887.7,1452.7 888.4,1453.1 888.4,1454.6 889.2,1455.0 889.2,1456.5 889.9,1456.9 889.9,1458.3 890.6,1458.8 890.6,1460.2 891.3,1460.6 891.3,1462.1 892.1,1462.5 892.1,1464.1 892.8,1464.5 892.8,1466.0 893.5,1466.4 893.5,1467.9 894.2,1468.4 894.2,1469.9 894.9,1470.3 894.9,1471.8 895.6,1472.2 895.6,1473.7 896.3,1474.1 896.3,1475.6 897.0,1476.0 897.0,1477.5 897.7,1477.9 897.7,1479.4 898.4,1479.8 898.4,1480.9 899.1,1481.2 899.1,1482.2 899.8,1482.5 899.8,1483.6 900.5,1483.9 900.5,1485.0 901.2,1485.3 901.2,1486.4 901.9,1486.7 901.9,1487.7 902.6,1488.0 902.6,1489.1 903.3,1489.4 903.3,1490.4 903.9,1490.7 903.9,1491.8 904.6,1492.1 904.6,1493.1 905.3,1493.4 905.3,1494.5 906.0,1494.8 906.0,1495.8 906.6,1496.1 906.6,1497.1 907.3,1497.4 907.3,1498.2 908.0,1498.5 908.0,1499.1 908.6,1499.3 908.6,1499.9 909.3,1500.1 909.3,1500.7 910.0,1500.9 910.0,1501.5 910.6,1501.6 910.6,1502.3 911.3,1502.4 911.3,1503.0 911.9,1503.2 911.9,1503.8 912.6,1504.0 912.6,1504.6 913.2,1504.8 913.2,1505.4 913.9,1505.6 913.9,1506.2 914.5,1506.3 914.5,1506.9 915.2,1507.1 915.2,1507.7 915.8,1507.9 915.8,1508.5 916.5,1508.6 916.5,1509.2 917.1,1509.4 917.1,1510.0 917.7,1510.2 917.7,1510.8 918.4,1510.9 918.4,1511.5 919.0,1511.7 919.0,1512.2 919.6,1512.3 919.6,1512.8 920.3,1513.0 920.3,1513.4 920.9,1513.6 920.9,1514.1 921.5,1514.2 921.5,1514.7 922.1,1514.8 922.1,1515.3 922.8,1515.5 922.8,1515.9 923.4,1516.1 923.4,1516.5 924.0,1516.7 924.0,1517.2 924.6,1517.3 924.6,1517.8 925.2,1517.9 925.2,1518.4 925.8,1518.5 925.8,1519.0 926.4,1519.1 926.4,1519.6 927.0,1519.7 927.0,1520.2 927.6,1520.3 927.6,1520.8 928.2,1520.9 928.2,1521.4 928.9,1521.6 928.9,1522.0 929.5,1522.2 929.5,1522.6 930.0,1522.7 930.0,1523.2 930.6,1523.3 930.6,1523.6 931.2,1523.7 931.2,1524.0 931.8,1524.1 931.8,1524.4 932.4,1524.5 932.4,1524.8 933.0,1524.9 933.0,1525.2 933.6,1525.3 933.6,1525.6 934.2,1525.6 934.2,1526.0 934.8,1526.0 934.8,1526.3 935.4,1526.4 935.4,1526.7 935.9,1526.8 935.9,1527.1 936.5,1527.2 936.5,1527.5 937.1,1527.6 937.1,1527.9 937.7,1528.0 937.7,1528.3 938.2,1528.3 938.2,1528.6 938.8,1528.7 938.8,1529.0 939.4,1529.1 939.4,1529.4 940.0,1529.5 940.0,1529.8 940.5,1529.9 940.5,1530.2 941.1,1530.2 941.1,1530.5 941.7,1530.6 941.7,1530.9 942.2,1531.0 942.2,1531.3 942.8,1531.4 942.8,1531.6 943.3,1531.7 943.3,1532.0 943.9,1532.1 943.9,1532.5 944.5,1532.6 944.5,1533.1 945.0,1533.2 945.0,1533.7 945.6,1533.8 945.6,1534.3 946.1,1534.5 946.1,1534.9 946.7,1535.1 946.7,1535.5 947.2,1535.7 947.2,1536.2 947.8,1536.3 947.8,1536.8 948.3,1536.9 948.3,1537.4 948.9,1537.5 948.9,1538.0 949.4,1538.1 949.4,1538.6 949.9,1538.7 949.9,1539.2 950.5,1539.3 950.5,1539.8 951.0,1539.9 951.0,1540.4 951.6,1540.5 951.6,1541.0 952.1,1541.1 952.1,1541.6 952.6,1541.7 952.6,1542.2 953.2,1542.3 953.2,1542.7 953.7,1542.8 953.7,1543.0 954.2,1543.0 954.2,1543.2 954.8,1543.3 954.8,1543.5 955.3,1543.5 955.3,1543.8 955.8,1543.8 955.8,1544.0 956.3,1544.1 956.3,1544.3 956.9,1544.3 956.9,1544.5 957.4,1544.6 957.4,1544.8 957.9,1544.9 957.9,1545.1 958.4,1545.1 958.4,1545.3 959.0,1545.4 959.0,1545.6 959.5,1545.6 959.5,1545.8 960.0,1545.9 960.0,1546.1 960.5,1546.2 960.5,1546.4 961.0,1546.4 961.0,1546.6 961.5,1546.7 961.5,1546.9 962.0,1546.9 962.0,1547.1 962.5,1547.2 962.5,1547.4 963.1,1547.4 963.1,1547.6 963.6,1547.7 963.6,1547.9 964.1,1547.9 964.1,1548.1 964.6,1548.2 964.6,1548.3 965.1,1548.3 965.1,1548.4 965.6,1548.4 965.6,1548.5 966.1,1548.5 974.0,1549.5 987.7,1555.2 999.2,1559.8 1006.0,1563.9"/>
<polyline stroke="#404040" points="479.5,280.1 479.5,288.5 485.0,291.7 485.0,302.9 490.2,306.1 490.2,306.3"/>
<polyline stroke="#404040" points="495.9,327.1 496.9,329.9"/>
<polyline stroke="#404040" points="505.3,351.8 505.3,358.7 510.1,361.1 510.1,369.6 514.7,372.0 514.7,380.5 516.2,381.2"/>
<polyline stroke="#404040" points="523.6,396.1 524.6,398.9"/>
<polyline stroke="#404040" points="532.4,422.3 532.4,429.4 536.6,431.9 536.6,440.6 540.7,443.1 540.7,451.7 544.7,454.1 544.7,454.1"/>
<polyline stroke="#404040" points="553.6,476.0 554.8,478.8"/>
<polyline stroke="#404040" points="563.7,501.4 563.7,505.9 567.3,507.5 567.3,513.2 570.9,514.8 570.9,520.4 574.3,522.0 574.3,527.5 577.7,529.0 577.7,529.6"/>
<polyline stroke="#404040" points="588.3,553.4 589.5,556.2"/>
<polyline stroke="#404040" points="597.1,579.3 597.1,580.9 600.1,582.4 600.1,587.9 603.2,589.4 603.2,594.8 606.1,596.3 606.1,601.6 609.0,603.1 609.0,608.3 609.8,608.7"/>
<polyline stroke="#404040" points="620.4,631.4 621.6,634.2"/>
<polyline stroke="#404040" points="633.6,660.1 633.6,662.0 636.2,663.1 636.2,667.3 638.7,668.4 638.7,672.5 641.2,673.7 641.2,677.7 643.6,678.9 643.6,682.9 646.1,684.0 646.1,687.9 646.9,688.3"/>
<polyline stroke="#404040" points="658.4,713.1 659.6,715.9"/>
<polyline stroke="#404040" points="668.9,740.5 668.9,742.1 671.1,743.1 671.1,746.5 673.2,747.5 673.2,750.9 675.3,751.9 675.3,755.3 677.4,756.3 677.4,759.6 679.4,760.6 679.4,763.9 681.5,764.8 681.5,764.9"/>
<polyline stroke="#404040" stroke-width="9.5" points="689.6,785.6 690.8,788.4"/>
<polyline stroke="#404040" stroke-width="9.5" points="700.8,813.5 700.8,814.0 702.7,814.9 702.7,817.8 704.5,818.7 704.5,821.6 706.3,822.4 706.3,825.3 708.1,826.2 708.1,829.1 709.9,829.9 709.9,832.7 711.6,833.5 711.6,836.4 713.4,837.2 713.4,840.0 714.3,840.4"/>
<polyline stroke="#404040" stroke-width="9.5" points="724.7,864.7 725.9,867.5"/>
<polyline stroke="#404040" stroke-width="9.5" points="735.2,892.6 736.3,893.3 736.3,897.3 737.9,898.4 737.9,902.3 739.4,903.4 739.4,907.3 740.9,908.4 740.9,912.3 742.4,913.4 742.4,917.3 743.9,918.3 743.9,919.5"/>
<polyline stroke="#404040" stroke-width="9.5" points="750.1,941.3 750.9,944.3"/>
<polyline stroke="#404040" stroke-width="9.5" points="757.0,973.0 757.0,976.1 758.4,977.9 758.4,984.3 759.7,986.1 759.7,992.3 761.1,994.1 761.1,1000.4 762.5,1002.1 762.5,1002.4"/>
<polyline stroke="#404040" stroke-width="9.5" points="765.5,1026.5 765.9,1029.5"/>
<polyline stroke="#404040" stroke-width="9.5" points="770.5,1059.7 770.5,1065.3 771.8,1067.2 771.8,1073.8 773.1,1075.7 773.1,1082.2 774.4,1084.1 774.4,1090.6 775.1,1091.6"/>
<polyline stroke="#404040" stroke-width="9.5" points="779.2,1119.0 779.6,1122.0"/>
<polyline stroke="#404040" stroke-width="9.5" points="784.4,1148.7 784.4,1152.3 785.6,1153.9 785.6,1159.7 786.9,1161.3 786.9,1167.1 788.1,1168.7 788.1,1174.4 789.3,1176.0 789.3,1181.7 790.5,1183.3 790.5,1185.6"/>
<polyline stroke="#404040" stroke-width="9.5" points="795.1,1208.6 795.7,1211.6"/>
<polyline stroke="#404040" stroke-width="9.5" points="800.9,1237.8 800.9,1238.8 802.0,1239.9 802.0,1244.0 803.1,1245.2 803.1,1249.2 804.2,1250.4 804.2,1254.4 805.3,1255.5 805.3,1259.5 806.4,1260.7 806.4,1264.7 807.5,1265.8 807.5,1269.8 808.6,1270.9 808.6,1272.1"/>
<polyline stroke="#404040" stroke-width="9.5" points="814.4,1297.6 815.0,1300.6"/>
<polyline stroke="#404040" stroke-width="9.5" points="821.3,1329.3 821.3,1330.1 822.3,1330.8 822.3,1333.4 823.3,1334.1 823.3,1336.7 824.3,1337.4 824.3,1339.9 825.3,1340.7 825.3,1343.2 826.3,1343.9 826.3,1346.4 827.3,1347.2 827.3,1349.7 828.3,1350.4 828.3,1352.9 829.3,1353.6 829.3,1356.1 830.2,1356.8 830.2,1359.3 831.2,1360.0 831.2,1362.4 832.2,1363.1 832.2,1365.6 833.1,1366.3 833.1,1367.4"/>
<polyline stroke="#404040" stroke-width="9.5" points="841.1,1394.5 841.9,1397.3"/>
<polyline stroke="#404040" stroke-width="9.5" points="851.1,1423.6 851.5,1423.8 851.5,1425.1 852.4,1425.5 852.4,1426.8 853.3,1427.2 853.3,1428.5 854.2,1428.9 854.2,1430.2 855.0,1430.6 855.0,1431.9 855.9,1432.2 855.9,1433.5 856.7,1433.9 856.7,1435.2 857.6,1435.6 857.6,1436.9 858.5,1437.2 858.5,1438.5 859.3,1438.9 859.3,1440.1 860.1,1440.5 860.1,1441.8 861.0,1442.1 861.0,1443.4 861.8,1443.8 861.8,1445.0 862.7,1445.4 862.7,1446.7 863.5,1447.0 863.5,1448.3 864.3,1448.6 864.3,1449.9 865.1,1450.2 865.1,1451.5 866.0,1451.8 866.0,1453.0 866.8,1453.4 866.8,1454.6 867.6,1455.0 867.6,1456.2 868.4,1456.6 868.4,1456.9"/>
<polyline stroke="#404040" stroke-width="9.5" points="882.7,1478.5 884.5,1480.9"/>
<polyline stroke="#404040" stroke-width="9.5" points="902.6,1506.7 902.6,1506.9 903.3,1507.1 903.3,1507.8 903.9,1508.0 903.9,1508.8 904.6,1509.0 904.6,1509.7 905.3,1509.9 905.3,1510.6 906.0,1510.8 906.0,1511.5 906.6,1511.7 906.6,1512.4 907.3,1512.6 907.3,1513.3 908.0,1513.4 908.0,1514.1 908.6,1514.3 908.6,1515.0 909.3,1515.2 909.3,1515.9 910.0,1516.1 910.0,1516.8 910.6,1517.0 910.6,1517.7 911.3,1517.9 911.3,1518.6 911.9,1518.7 911.9,1519.4 912.6,1519.6 912.6,1520.3 913.2,1520.5 913.2,1521.2 913.9,1521.4 913.9,1521.8 914.5,1522.0 914.5,1522.4 915.2,1522.5 915.2,1523.0 915.8,1523.1 915.8,1523.5 916.5,1523.7 916.5,1524.1 917.1,1524.2 917.1,1524.6 917.7,1524.8 917.7,1525.2 918.4,1525.3 918.4,1525.8 919.0,1525.9 919.0,1526.3 919.6,1526.4 919.6,1526.9 920.3,1527.0 920.3,1527.4 920.9,1527.5 920.9,1527.9 921.5,1528.1 921.5,1528.5 922.1,1528.6 922.1,1529.0 922.8,1529.2 922.8,1529.6 923.4,1529.7 923.4,1530.1 924.0,1530.2 924.0,1530.7 924.6,1530.8 924.6,1531.2 925.2,1531.3 925.2,1531.7 925.8,1531.8 925.8,1532.3 926.4,1532.4 926.4,1532.8 927.0,1532.9 927.0,1533.3 927.6,1533.4 927.6,1533.9 928.2,1534.0 928.2,1534.4 928.9,1534.5 928.9,1534.9 929.5,1535.0 929.5,1535.4 930.0,1535.5 930.0,1535.9"/>
<polyline stroke="#404040" stroke-width="9.5" points="954.4,1553.3 957.0,1554.9"/>
<polyline stroke="#404040" stroke-width="9.5" points="986.9,1569.6 1020.7,1576.3"/>
<polyline stroke="#404040" points="1051.6,1580.1 1057.6,1580.7"/>
<polyline stroke="#404040" points="1088.8,1582.5 1125.9,1585.8"/>
<polyline stroke="#404040" points="1157.6,1585.7 1163.6,1585.7"/>
<polyline stroke="#404040" points="1194.1,1587.2 1232.3,1590.7"/>
<polyline stroke="#404040" points="1263.4,1590.9 1269.4,1591.1"/>
<polyline stroke="#404040" points="1297.8,1592.1 1341.0,1592.6"/>
<polyline stroke="#404040" points="1369.3,1592.6 1375.3,1592.6"/>
<polyline stroke="#404040" points="1403.5,1593.5 1448.1,1593.5"/>
<polyline stroke="#404040" points="1475.6,1594.0 1481.6,1594.0"/>
<polyline stroke="#404040" points="1509.3,1594.3 1553.9,1594.3"/>
<polyline stroke="#404040" points="1581.6,1594.6 1587.6,1594.6"/>
<polyline stroke="#404040" points="1615.1,1594.8 1659.7,1594.8"/>
<polyline stroke="#404040" points="1687.4,1595.0 1693.4,1595.0"/>
<polyline stroke="#404040" points="1721.7,1595.0 1765.4,1595.0"/>
<polyline stroke="#404040" points="1793.2,1595.4 1799.2,1595.4"/>
<polyline stroke="#404040" points="1827.2,1595.4 1871.8,1595.5"/>
<polyline stroke="#404040" points="1899.3,1595.9 1905.3,1596.1"/>
<polyline stroke="#404040" points="1933.1,1596.9 1978.0,1598.1"/>
<polyline stroke="#404040" points="2005.8,1598.0 2011.8,1598.0"/>
<polyline stroke="#404040" points="2039.5,1598.6 2083.7,1598.8"/>
<polyline stroke="#404040" points="2111.4,1598.8 2117.4,1598.8"/>
<polyline stroke="#404040" points="2145.4,1598.8 2189.8,1598.8"/>
<polyline stroke="#404040" points="2217.5,1598.8 2223.5,1598.8"/>
<polyline stroke="#404040" points="2251.1,1598.8 2295.8,1598.8"/>
<polyline stroke="#404040" points="2323.6,1598.8 2329.6,1598.8"/>
<polyline stroke="#404040" points="2356.9,1598.8 2401.5,1598.8"/>
</g>
<g id="legend">
<rect x="1680.7" y="72.7" width="699.8" height="366" fill="#fff" stroke="#000" stroke-width="3"/>
<line x1="1691.8" y1="136.8" x2="1900" y2="136.8" stroke="#000" stroke-width="8" stroke-linecap="round" stroke-dasharray="37 47"/>
<line x1="1691.8" y1="255.6" x2="1924.6" y2="255.6" stroke="#808080" stroke-width="8.4" stroke-linecap="round"/>
<line x1="1691.8" y1="374.9" x2="1924.6" y2="374.9" stroke="#404040" stroke-width="8" stroke-linecap="round" stroke-dasharray="45 27.2 6 28"/>
<text transform="translate(1941.71,169.00) scale(1.0633,1.0)" font-size="86">SC-P</text>
<text transform="translate(1941.72,287.50) scale(1.0500,1.0)" font-size="86">SC-P-20CC</text>
<text transform="translate(1941.72,406.20) scale(1.0500,1.0)" font-size="86">SC-P-40CC</text>
</g>
<g id="arrows">
<line x1="415.8" y1="1384" x2="839.3" y2="1384" stroke="#000" stroke-width="1.8"/>
<polygon points="346.5,1384 416.8,1373 416.8,1395" fill="#000"/>
<polygon points="907.5,1384 838.3,1373 838.3,1395" fill="#000"/>
<line x1="965.8" y1="1178" x2="1557.0" y2="1178" stroke="#000" stroke-width="1.8"/>
<polygon points="897.0,1178 966.8,1167.2 966.8,1188.8" fill="#000"/>
<polygon points="1622.0,1178 1556.0,1167.2 1556.0,1188.8" fill="#000"/>
<line x1="1681.0" y1="901.8" x2="2344.0" y2="901.8" stroke="#000" stroke-width="1.8"/>
<polygon points="1616.0,901.8 1682.0,890.8 1682.0,912.8" fill="#000"/>
<polygon points="2413.0,901.8 2343.0,890.8 2343.0,912.8" fill="#000"/>
</g>
<text class="b" transform="translate(185.14,73.00) scale(1.0888,1.0)" font-size="82.5">140</text>
<text class="b" transform="translate(185.14,459.00) scale(1.0888,1.0)" font-size="82.5">105</text>
<text class="b" transform="translate(232.68,845.00) scale(1.0628,1.0)" font-size="82.5">70</text>
<text class="b" transform="translate(232.24,1231.00) scale(1.0668,1.0)" font-size="82.5">35</text>
<text class="b" transform="translate(275.75,1617.00) scale(1.0896,1.0)" font-size="82.5">0</text>
<text class="b" transform="translate(605.07,1706.70) scale(1.0588,1.0)" font-size="82.5">0.01</text>
<text class="b" transform="translate(1095.68,1706.70) scale(1.0562,1.0)" font-size="82.5">0.1</text>
<text class="b" transform="translate(1591.01,1706.70) scale(1.2080,1.0)" font-size="82.5">1</text>
<text class="b" transform="translate(2037.56,1706.70) scale(1.1019,1.0)" font-size="82.5">10</text>
<text class="b" transform="translate(968.42,1854.30) scale(1.0604,1.0)" font-size="92">Pore</text>
<text class="b" transform="translate(1186.39,1854.30) scale(1.0832,1.0)" font-size="92">diameter</text>
<text class="b" transform="translate(1588.00,1854.30) scale(1.1099,1.0)" font-size="92">[µm]</text>
<text class="b" transform="translate(103.50,1418.98) rotate(-90) scale(1.0697,1.0)" font-size="92">Specific</text>
<text class="b" transform="translate(103.50,1076.79) rotate(-90) scale(1.0242,1.0)" font-size="92">pore</text>
<text class="b" transform="translate(103.50,876.00) rotate(-90) scale(1.0593,1.0)" font-size="92">volume</text>
<text class="b" transform="translate(103.50,553.49) rotate(-90) scale(1.0141,1.0)" font-size="92">[mm<tspan font-size="60" dy="-37.6">3</tspan><tspan dy="37.6">/g]</tspan></text>
</svg></body></html>
